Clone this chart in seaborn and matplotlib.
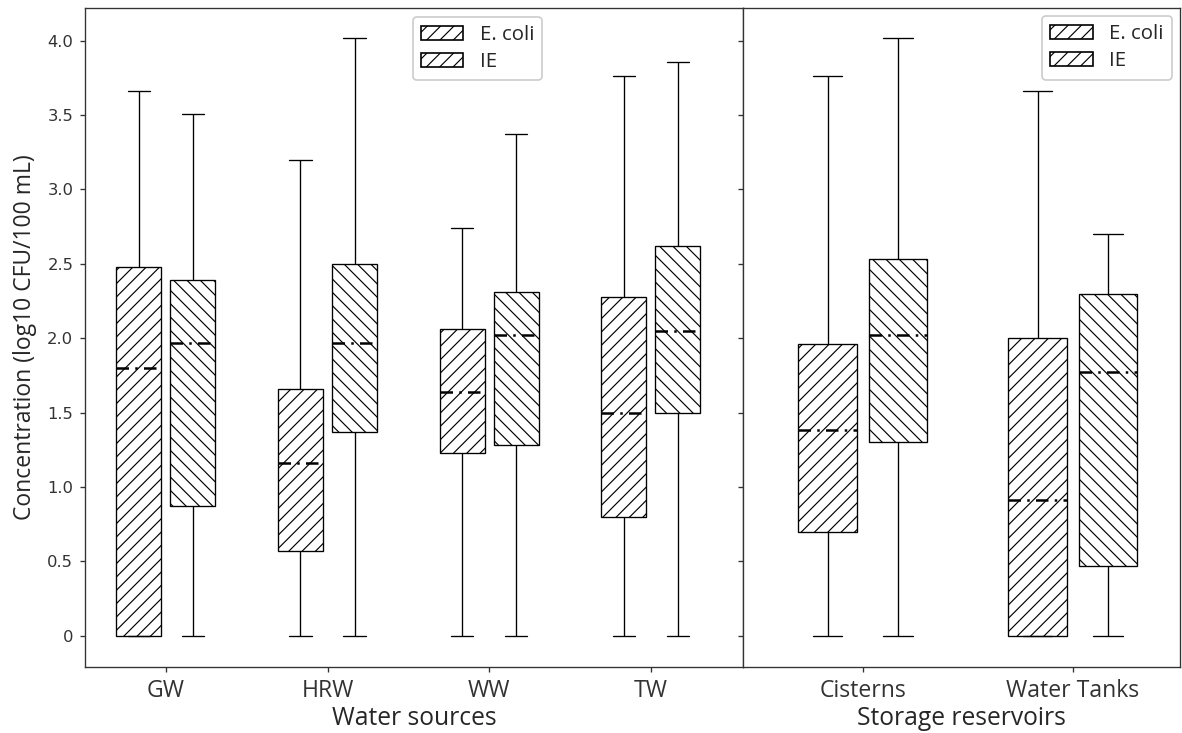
import numpy as np
import pandas as pd
import matplotlib
matplotlib.use("Agg")
import matplotlib.pyplot as plt
from matplotlib.patches import Patch
import seaborn as sns

# ---- data (five-number summaries: min, Q1, median, Q3, max) ----
indicators = ["E. coli", "IE"]

source_sites = ["GW", "HRW", "WW", "TW"]
source_ecoli = [
    [0.0, 0.0, 1.80, 2.48, 3.66],   # GW
    [0.0, 0.57, 1.16, 1.66, 3.20],  # HRW
    [0.0, 1.23, 1.64, 2.06, 2.74],  # WW
    [0.0, 0.80, 1.50, 2.28, 3.76],  # TW
]
source_ie = [
    [0.0, 0.87, 1.97, 2.39, 3.51],  # GW
    [0.0, 1.37, 1.97, 2.50, 4.02],  # HRW
    [0.0, 1.28, 2.02, 2.31, 3.37],  # WW
    [0.0, 1.50, 2.05, 2.62, 3.86],  # TW
]

storage_sites = ["Cisterns", "Water Tanks"]
storage_ecoli = [
    [0.0, 0.70, 1.38, 1.96, 3.76],  # Cisterns
    [0.0, 0.0, 0.91, 2.00, 3.66],   # Water Tanks
]
storage_ie = [
    [0.0, 1.30, 2.02, 2.53, 4.02],  # Cisterns
    [0.0, 0.47, 1.77, 2.30, 2.70],  # Water Tanks
]

y_ticks = [0, 0.5, 1.0, 1.5, 2.0, 2.5, 3.0, 3.5, 4.0]
y_tick_labels = ["0", "0.5", "1.0", "1.5", "2.0", "2.5", "3.0", "3.5", "4.0"]


def to_long(sites, ecoli, ie):
    rows = []
    for s, e, i in zip(sites, ecoli, ie):
        for v in e:
            rows.append((s, "E. coli", v))
        for v in i:
            rows.append((s, "IE", v))
    return pd.DataFrame(rows, columns=["site", "indicator", "value"])


df_src = to_long(source_sites, source_ecoli, source_ie)
df_sto = to_long(storage_sites, storage_ecoli, storage_ie)

sns.set_style("ticks")
plt.rcParams["hatch.linewidth"] = 0.7
plt.rcParams["hatch.color"] = "black"

DPI = 120
fig = plt.figure(figsize=(1182 / DPI, 733 / DPI), dpi=DPI)
left, right, bottom, top = 85 / 1182, 1180 / 1182, (733 - 667) / 733, (733 - 8) / 733
split = 743 / 1182
ax1 = fig.add_axes([left, bottom, split - left, top - bottom])
ax2 = fig.add_axes([split, bottom, right - split, top - bottom], sharey=ax1)

palette = {"E. coli": "white", "IE": "white"}
box_kw = dict(
    x="site", y="value", hue="indicator", hue_order=indicators,
    whis=(0, 100), width=0.67, gap=0.17, palette=palette,
    linecolor="black", linewidth=0.8, legend=False,
    medianprops=dict(color="black", linewidth=1.5, linestyle=(0, (5, 2.5, 1, 2.5))),
)
sns.boxplot(data=df_src, order=source_sites, ax=ax1, **box_kw)
sns.boxplot(data=df_sto, order=storage_sites, ax=ax2, **box_kw)

for ax in (ax1, ax2):
    for p in ax.patches:
        ext = p.get_path().get_extents()
        cx = (ext.x0 + ext.x1) / 2
        p.set_hatch("///" if cx < round(cx) else "\\\\\\")
        p.set_edgecolor("black")
        p.set_facecolor("white")

ax1.set_xlim(-0.5, 3.57)
ax2.set_xlim(-0.57, 1.51)
ax1.set_ylim(-0.21, 4.22)
ax1.set_yticks(y_ticks)
ax1.set_yticklabels(y_tick_labels, fontsize=9.8, family="DejaVu Sans")
plt.setp(ax2.get_yticklabels(), visible=False)
ax2.set_ylabel("")

lab_font = ["Open Sans", "DejaVu Sans"]
ax1.set_ylabel("Concentration (log10 CFU/100 mL)", fontsize=13.7, family=lab_font, labelpad=6)
ax1.set_xlabel("Water sources", fontsize=14.8, family=lab_font, labelpad=2)
ax2.set_xlabel("Storage reservoirs", fontsize=14.8, family=lab_font, labelpad=2)
for ax in (ax1, ax2):
    for t in ax.get_xticklabels():
        t.set_fontsize(13.8)
        t.set_family(lab_font)
    for s in ax.spines.values():
        s.set_visible(True)
        s.set_color("#333333")
        s.set_linewidth(0.8)
    ax.tick_params(colors="#333333", labelcolor="#333333", length=3, width=0.8, pad=4)

handles = [Patch(facecolor="white", edgecolor="black", hatch="///", label=l) for l in indicators]
leg_kw = dict(prop={"family": lab_font, "size": 12.2}, handlelength=2.1,
              handleheight=0.65, labelspacing=0.35, framealpha=1, edgecolor="#cccccc",
              borderaxespad=0.4)
ax1.legend(handles=handles, loc="upper left", bbox_to_anchor=(0.4855, 0.999), **leg_kw)
ax2.legend(handles=handles, loc="upper right", **leg_kw)

fig.savefig("out.png", dpi=DPI)
